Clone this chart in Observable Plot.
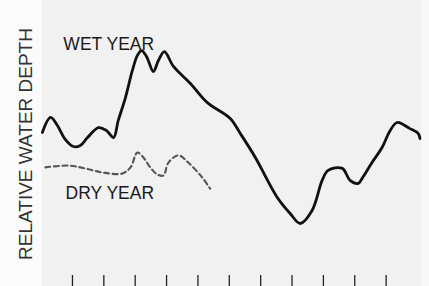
<!DOCTYPE html>
<html>
<head>
<meta charset="utf-8">
<script src="https://cdn.jsdelivr.net/npm/d3@7"></script>
<script src="https://cdn.jsdelivr.net/npm/@observablehq/plot@0.6"></script>
<style>
  html, body { margin: 0; padding: 0; background: #fff; }
  #chart svg { display: block; background: linear-gradient(to right, #fbfbfb 0px, #fbfbfb 42px, #f1f1f1 42px, #f1f1f1 421px, #f7f7f7 421px); }
</style>
</head>
<body>
<div id="chart"></div>
<script>
// Time (x, arbitrary months) and relative depth (y)
const wetX = [0.04,0.30,0.52,0.75,1.03,1.25,1.48,1.83,2.08,2.31,2.46,2.69,2.91,3.07,3.20,3.36,3.58,3.74,3.93,4.22,4.76,5.30,6.03,6.35,6.83,7.53,7.94,8.26,8.64,8.96,9.15,9.60,9.85,10.11,10.23,10.55,10.87,11.13,11.35,11.76,12.02,12.08];
const wetY = [5.61,6.20,5.88,5.37,5.06,5.10,5.41,5.80,5.69,5.41,6.08,6.98,8.04,8.63,8.82,8.59,8.00,8.43,8.78,8.20,7.53,6.78,6.16,5.57,4.63,3.06,2.43,2.04,2.55,3.73,4.12,4.20,3.73,3.61,3.80,4.43,5.02,5.69,6.00,5.76,5.57,5.37];
const dryX = [0.14,0.87,1.41,1.96,2.59,2.85,3.07,3.26,3.48,3.71,3.90,4.06,4.38,4.69,5.14,5.39];
const dryY = [4.24,4.31,4.20,4.04,4.00,4.24,4.82,4.63,4.24,3.96,3.92,4.43,4.71,4.43,3.84,3.41];
const tickValues = [1,2,3,4,5,6,7,8,9,10,11];
const seriesLabels = ["WET YEAR", "DRY YEAR"];
const labelX = [0.71, 0.78];
const labelY = [8.98, 3.10];
const yTitle = "RELATIVE WATER DEPTH";

const wet = wetX.map((x, i) => ({x, y: wetY[i]}));
const dry = dryX.map((x, i) => ({x, y: dryY[i]}));
const labels = seriesLabels.map((t, i) => ({t, x: labelX[i], y: labelY[i]}));

const chart = Plot.plot({
  width: 429,
  height: 286,
  marginLeft: 40.6,
  marginRight: 12,
  marginTop: 20,
  marginBottom: 11,
  style: {fontFamily: "Liberation Sans, Arial, sans-serif"},
  x: {domain: [0, 12]},
  y: {domain: [0, 10], axis: null},
  marks: [
    Plot.axisX({ticks: tickValues, tickSize: 11, tickFormat: () => "", label: null, stroke: "#222", strokeWidth: 1.3}),
    Plot.line(dry, {x: "x", y: "y", curve: "catmull-rom", stroke: "#555", strokeWidth: 2.1, strokeDasharray: "5,3.5"}),
    Plot.line(wet, {x: "x", y: "y", curve: "catmull-rom", stroke: "#111", strokeWidth: 2.8}),
    Plot.text(labels, {x: "x", y: "y", text: "t", textAnchor: "start", lineAnchor: "bottom", fontSize: 17.5, fill: "#1a1a1a", dy: 3}),
    Plot.text([yTitle], {frameAnchor: "left", textAnchor: "middle", rotate: -90, dx: -15, dy: -4, fontSize: 19, fill: "#333"})
  ]
});
document.getElementById("chart").appendChild(chart);
</script>
</body>
</html>
